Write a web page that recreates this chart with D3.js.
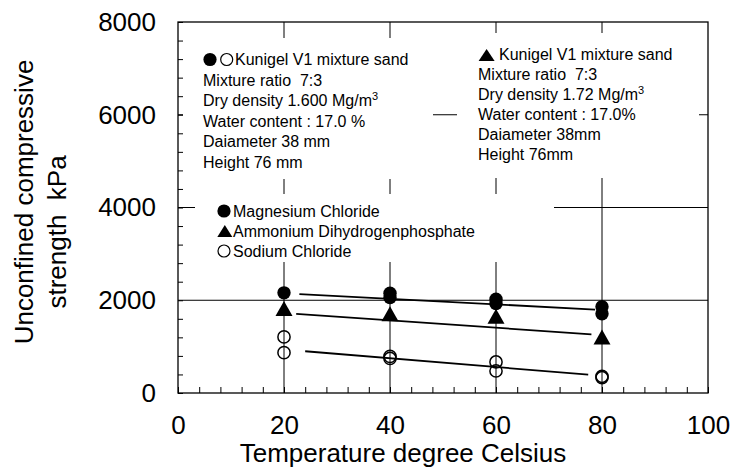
<!DOCTYPE html>
<html>
<head>
<meta charset="utf-8">
<script src="https://cdn.jsdelivr.net/npm/d3@7"></script>
<style>
  body { margin: 0; background: #fff; }
  svg text { font-family: "Liberation Sans", Arial, sans-serif; fill: #000; white-space: pre; }
</style>
</head>
<body>
<div id="chart"></div>
<script>
// values
const xTicks = [0, 20, 40, 60, 80, 100];
const yTicks = [0, 2000, 4000, 6000, 8000];
const gridX = [20, 40, 60, 80];
const gridY = [2000, 4000, 6000];

const mgPoints = [[20, 2160], [40, 2150], [40, 2060], [60, 2020], [60, 1930], [80, 1860], [80, 1710]];
const ammPoints = [[20, 1820], [40, 1710], [60, 1655], [80, 1210]];
const naPoints = [[20, 1210], [20, 870], [40, 790], [40, 745], [60, 670], [60, 475], [80, 360], [80, 330]];

const mgFit = [[22.9, 2130], [78.7, 1800]];
const ammFit = [[22.3, 1705], [78.0, 1265]];
const naFit = [[24.0, 900], [77.4, 395]];

const leftNote = ["Kunigel V1 mixture sand", "Mixture ratio  7:3", "Dry density 1.600 Mg/m", "Water content : 17.0 %", "Daiameter 38 mm", "Height 76 mm"];
const rightNote = ["Kunigel V1 mixture sand", "Mixture ratio  7:3", "Dry density 1.72 Mg/m", "Water content : 17.0%", "Daiameter 38mm", "Height 76mm"];
const legendLabels = ["Magnesium Chloride", "Ammonium Dihydrogenphosphate", "Sodium Chloride"];

const width = 731, height = 468;
const margin = { top: 22, right: 23, bottom: 75, left: 178 };

const x = d3.scaleLinear().domain([0, 100]).range([margin.left, width - margin.right]);
const y = d3.scaleLinear().domain([0, 8000]).range([height - margin.bottom, margin.top]);

const svg = d3.select("#chart").append("svg")
  .attr("width", width)
  .attr("height", height)
  .attr("viewBox", `0 0 ${width} ${height}`);

svg.append("rect").attr("width", width).attr("height", height).attr("fill", "#fff");

// grid
svg.append("g").selectAll("line").data(gridX).join("line")
  .attr("x1", d => x(d)).attr("x2", d => x(d))
  .attr("y1", y(0)).attr("y2", y(8000))
  .attr("stroke", "#000").attr("stroke-width", 1);
svg.append("g").selectAll("line").data(gridY).join("line")
  .attr("x1", x(0)).attr("x2", x(100))
  .attr("y1", d => y(d)).attr("y2", d => y(d))
  .attr("stroke", "#000").attr("stroke-width", 1);

// white boxes behind the notes
const boxes = [
  { x0: 183, y0: 38, x1: 433, y1: 179 },
  { x0: 457, y0: 33, x1: 699, y1: 178 },
  { x0: 195, y0: 194, x1: 554, y1: 262 },
];
svg.append("g").selectAll("rect").data(boxes).join("rect")
  .attr("x", d => d.x0).attr("y", d => d.y0)
  .attr("width", d => d.x1 - d.x0).attr("height", d => d.y1 - d.y0)
  .attr("fill", "#fff");

// minor ticks inside
svg.append("g")
  .attr("transform", `translate(${margin.left},0)`)
  .call(d3.axisLeft(y).tickValues(d3.range(0, 8001, 400)).tickSize(-5).tickFormat(""))
  .call(g => g.select(".domain").remove());
svg.append("g")
  .attr("transform", `translate(0,${y(0)})`)
  .call(d3.axisBottom(x).tickValues(d3.range(0, 101, 4)).tickSize(-6).tickFormat(""))
  .call(g => g.select(".domain").remove());

// tick labels
svg.append("g")
  .attr("transform", `translate(${margin.left},0)`)
  .call(d3.axisLeft(y).tickValues(yTicks).tickSize(0).tickPadding(22).tickFormat(d3.format("d")))
  .call(g => g.select(".domain").remove())
  .call(g => g.selectAll("text").attr("font-size", 26).attr("font-family", null));
svg.append("g")
  .attr("transform", `translate(0,${y(0)})`)
  .call(d3.axisBottom(x).tickValues(xTicks).tickSize(0).tickPadding(23).tickFormat(d3.format("d")))
  .call(g => g.select(".domain").remove())
  .call(g => g.selectAll("text").attr("font-size", 26).attr("font-family", null));

// frame
svg.append("rect")
  .attr("x", x(0)).attr("y", y(8000))
  .attr("width", x(100) - x(0)).attr("height", y(0) - y(8000))
  .attr("fill", "none").attr("stroke", "#000").attr("stroke-width", 1.3);

// axis titles
svg.append("text").attr("x", 403).attr("y", 462).attr("text-anchor", "middle")
  .attr("font-size", 26).text("Temperature degree Celsius");
svg.append("text").attr("transform", "translate(33,202) rotate(-90)").attr("text-anchor", "middle")
  .attr("font-size", 26).text("Unconfined compressive");
svg.append("text").attr("transform", "translate(66,232) rotate(-90)").attr("text-anchor", "middle")
  .attr("font-size", 26).text("strength  kPa");

// fit lines
const line = d3.line().x(d => x(d[0])).y(d => y(d[1]));
svg.append("g").selectAll("path").data([mgFit, ammFit, naFit]).join("path")
  .attr("d", line).attr("fill", "none").attr("stroke", "#000").attr("stroke-width", 1.8);

// markers
const tri = (w, h) => `M0,${-h / 2}L${w / 2},${h / 2}L${-w / 2},${h / 2}Z`;
svg.append("g").selectAll("circle").data(mgPoints).join("circle")
  .attr("cx", d => x(d[0])).attr("cy", d => y(d[1])).attr("r", 6.7).attr("fill", "#000");
svg.append("g").selectAll("path").data(ammPoints).join("path")
  .attr("transform", d => `translate(${x(d[0])},${y(d[1])})`)
  .attr("d", tri(17, 15)).attr("fill", "#000");
svg.append("g").selectAll("circle").data(naPoints).join("circle")
  .attr("cx", d => x(d[0])).attr("cy", d => y(d[1])).attr("r", 6.1)
  .attr("fill", "none").attr("stroke", "#000").attr("stroke-width", 1.5);

// notes
function note(lines, x0, x1st, base, step) {
  const g = svg.append("g");
  lines.forEach((s, i) => {
    const t = g.append("text").attr("x", i === 0 ? x1st : x0).attr("y", base + i * step)
      .attr("font-size", 16).text(s);
    if (s.endsWith("Mg/m")) t.append("tspan").attr("font-size", 11).attr("dy", -6).text("3");
  });
}
note(leftNote, 203, 235, 65, 20.5);
note(rightNote, 478, 499, 60.3, 20);

svg.append("circle").attr("cx", 210).attr("cy", 59.5).attr("r", 6.6).attr("fill", "#000");
svg.append("circle").attr("cx", 226.7).attr("cy", 59.5).attr("r", 6).attr("fill", "none")
  .attr("stroke", "#000").attr("stroke-width", 1.2);
svg.append("path").attr("transform", "translate(486.6,55)").attr("d", tri(16, 12)).attr("fill", "#000");

// legend
const legend = svg.append("g");
legendLabels.forEach((s, i) => {
  legend.append("text").attr("x", 233).attr("y", 216.7 + i * 20).attr("font-size", 16).text(s);
});
legend.append("circle").attr("cx", 224).attr("cy", 211).attr("r", 6.6).attr("fill", "#000");
legend.append("path").attr("transform", "translate(224.8,231)").attr("d", tri(15, 12)).attr("fill", "#000");
legend.append("circle").attr("cx", 224).attr("cy", 251).attr("r", 6).attr("fill", "none")
  .attr("stroke", "#000").attr("stroke-width", 1.2);
</script>
</body>
</html>
